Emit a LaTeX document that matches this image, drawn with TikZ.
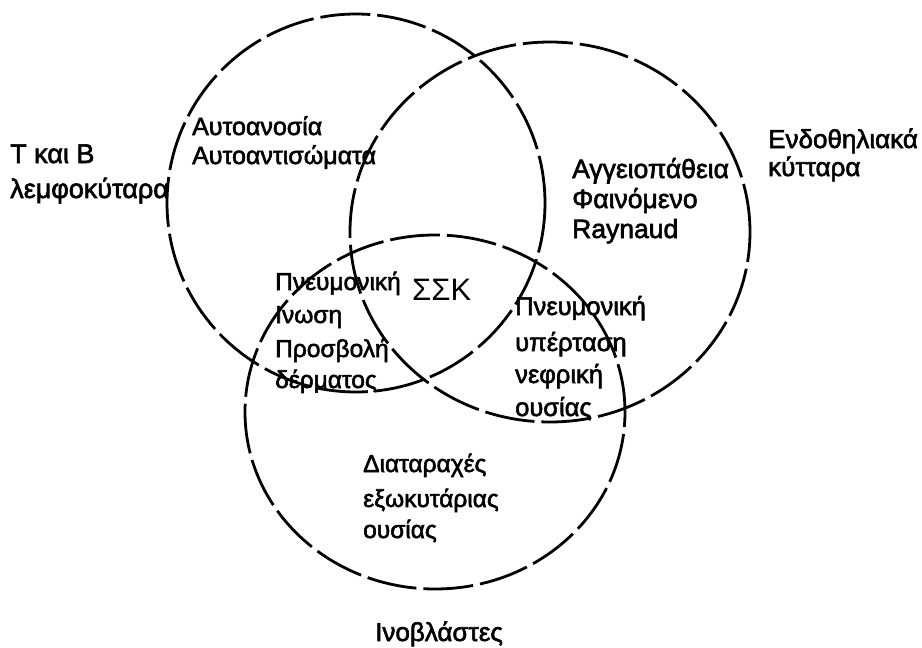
\documentclass[tikz,border=0pt]{standalone}
\usepackage{fontspec}
\setmainfont{Liberation Sans}
\newfontfamily\lblfont{Liberation Sans}[FakeBold=2.2]
\begin{document}
\begin{tikzpicture}[x=1pt,y=-1pt,
  ring/.style={draw=black, line width=2.8pt, dash pattern=on 50pt off 7pt},
  lbl/.style={anchor=base west, inner sep=0pt, font=\lblfont\fontsize{25}{28}\selectfont},
  fs/.style={font=\lblfont\fontsize{#1}{#1}\selectfont},
  big/.style={anchor=base west, inner sep=0pt, font=\fontsize{31}{33}\selectfont}]
\useasboundingbox (0,0) rectangle (922,648);
\fill[white] (0,0) rectangle (922,648);
% circles
\draw[ring] (356,203) ellipse [x radius=189, y radius=189];
\draw[ring, dash phase=20pt] (550,232) ellipse [x radius=200, y radius=190];
\draw[ring, dash phase=35pt] (435,412) ellipse [x radius=190, y radius=177];
% outer labels
\node[lbl, fs=27] (tb1) at (10,163) {T και B};
\node[lbl, fs=27] (tb2) at (10,198) {λεμφοκύταρα};
\node[lbl, fs=26] (en1) at (768,148) {Ενδοθηλιακά};
\node[lbl, fs=26] (en2) at (768,176) {κύτταρα};
\node[lbl, fs=26] (ino) at (375,641) {Ινοβλάστες};
% circle 1
\node[lbl, fs=25] (a1) at (192,135) {Αυτοανοσία};
\node[lbl, fs=25] (a2) at (192,164) {Αυτοαντισώματα};
% circle 2
\node[lbl, fs=26.5] (g1) at (572,178) {Αγγειοπάθεια};
\node[lbl, fs=26.5] (g2) at (572,208) {Φαινόμενο};
\node[lbl, fs=26.5] (g3) at (572,238) {Raynaud};
% overlap 1-3
\node[lbl, fs=24.5] (p1) at (275,290) {Πνευμονική};
\node[lbl, fs=24.5] (p2) at (275,323) {Ινωση};
\node[lbl, fs=24.5] (p3) at (275,357) {Προσβολή};
\node[lbl, fs=24.5] (p4) at (275,388) {δέρματος};
% centre
\node[big] (ssk) at (412,300) {ΣΣΚ};
% overlap 2-3
\node[lbl, fs=25.5] (q1) at (515,315) {Πνευμονική};
\node[lbl, fs=25.5] (q2) at (515,351) {υπέρταση};
\node[lbl, fs=25.5] (q3) at (515,383) {νεφρική};
\node[lbl, fs=25.5] (q4) at (515,416) {ουσίας};
% circle 3
\node[lbl, fs=24.5] (d1) at (363,472) {Διαταραχές};
\node[lbl, fs=24.5] (d2) at (363,507) {εξωκυτάριας};
\node[lbl, fs=24.5] (d3) at (363,538) {ουσίας};
\end{tikzpicture}
\end{document}
